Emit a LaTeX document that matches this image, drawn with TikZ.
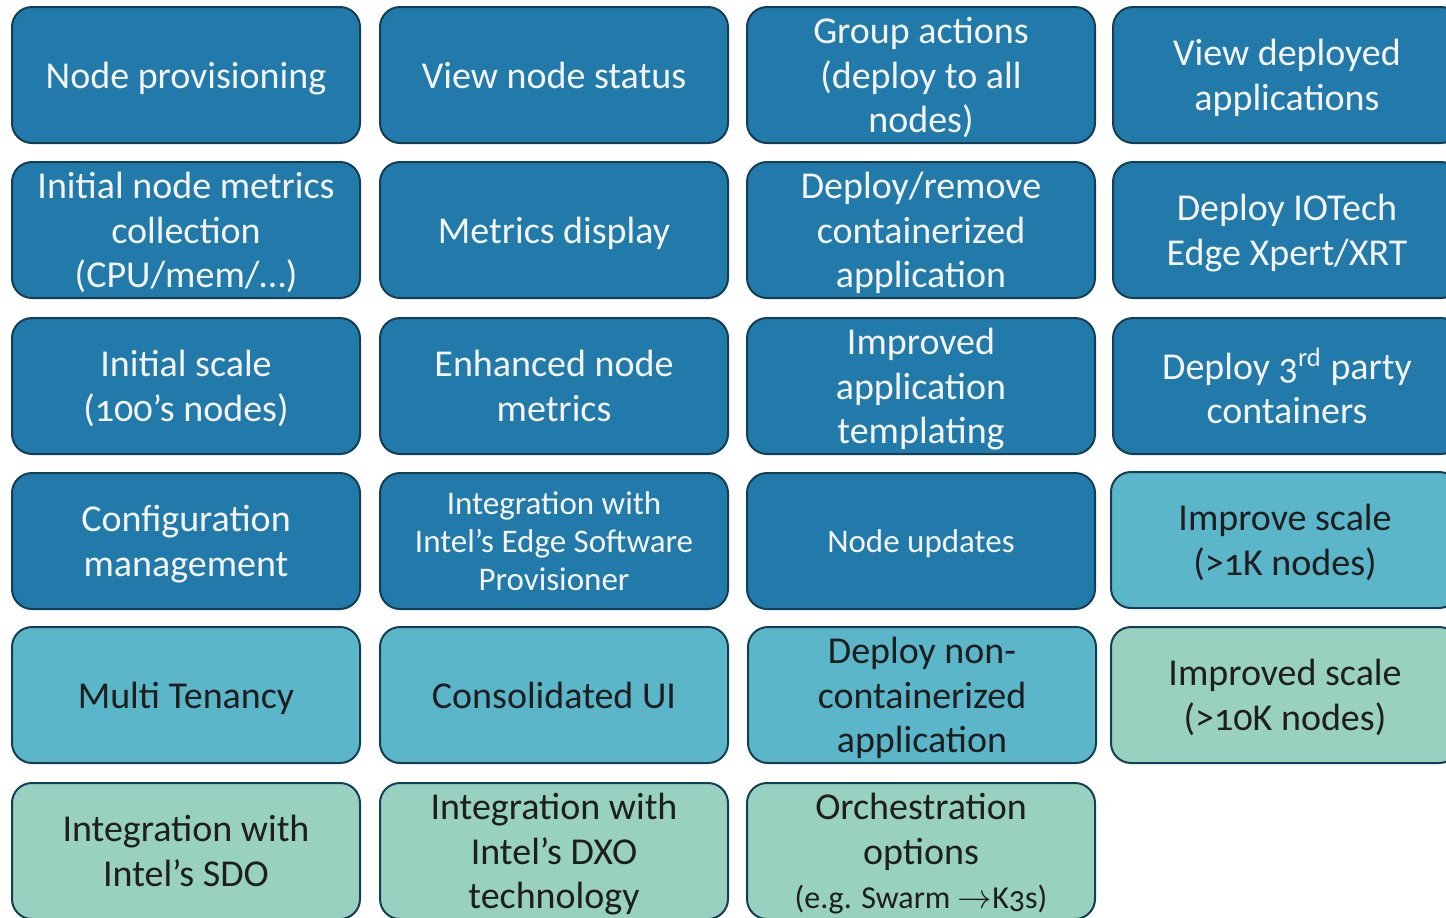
\documentclass[tikz,border=0pt]{standalone}
\usepackage{fontspec}
\setmainfont{Carlito}[Numbers=OldStyle]
\usetikzlibrary{positioning}
\usepackage{xcolor}

\definecolor{donefill}{HTML}{227AAB}
\definecolor{plannedfill}{HTML}{5BB6CA}
\definecolor{futurefill}{HTML}{98D1C0}
\definecolor{edgeline}{HTML}{123F55}
\definecolor{lighttext}{HTML}{F4F4F4}
\definecolor{darktext}{HTML}{1E1E1E}

\tikzset{
  feature/.style={rectangle, draw=edgeline, line width=1pt, rounded corners=10pt,
    minimum width=174pt, minimum height=68pt, inner sep=0pt, align=center,
    text depth=0pt, font=\fontsize{19}{22.3}\selectfont},
  donebox/.style={feature, fill=donefill, text=lighttext},
  plannedbox/.style={feature, fill=plannedfill, text=darktext},
  futurebox/.style={feature, fill=futurefill, text=darktext},
  smalltext/.style={font=\fontsize{16.5}{19}\selectfont}
}

\begin{document}
\begin{tikzpicture}[x=0.5pt, y=-0.5pt]
  \useasboundingbox (0,0) rectangle (1446,917);
  \clip (0,0) rectangle (1446,917);

  % first column
  \node[donebox] (NodeProv) at (186,75) {Node provisioning};
  \node[donebox] (InitMetrics) at (186,230) {Initial node metrics\\collection\\(CPU/mem/\dots)};
  \node[donebox] (InitScale) at (186,386) {Initial scale\\(100’s nodes)};
  \node[donebox] (ConfigMgmt) at (186,541) {Configuration\\management};
  \node[plannedbox] (MultiTenancy) at (186,695) {Multi Tenancy};
  \node[futurebox] (IntelSDO) at (186,851) {Integration with\\Intel’s SDO};

  % second column
  \node[donebox] (ViewStatus) at (554,75) {View node status};
  \node[donebox] (MetricsDisplay) at (554,230) {Metrics display};
  \node[donebox] (EnhMetrics) at (554,386) {Enhanced node\\metrics};
  \node[donebox, smalltext] (IntelESP) at (554,541) {Integration with\\Intel’s Edge Software\\Provisioner};
  \node[plannedbox] (ConsolUI) at (554,695) {Consolidated UI};
  \node[futurebox] (IntelDXO) at (554,851) {Integration with\\Intel’s DXO\\technology};

  % third column
  \node[donebox] (GroupActions) at (921,75) {Group actions\\(deploy to all\\nodes)};
  \node[donebox] (DeployRemove) at (921,230) {Deploy/remove\\containerized\\application};
  \node[donebox] (AppTemplating) at (921,386) {Improved\\application\\templating};
  \node[donebox, smalltext] (NodeUpdates) at (921,541) {Node updates};
  \node[plannedbox] (NonContainer) at (922,695) {Deploy non-\\containerized\\application};
  \node[futurebox] (Orchestration) at (921,851)
    {Orchestration\\options\\{\fontsize{16}{19}\selectfont (e.g. Swarm $\rightarrow$K3s)}};

  % fourth column
  \node[donebox] (ViewApps) at (1287,75) {View deployed\\applications};
  \node[donebox] (IOTech) at (1287,230) {Deploy IOTech\\Edge Xpert/XRT};
  \node[donebox] (ThirdParty) at (1287,386) {Deploy 3\textsuperscript{rd} party\\containers};
  \node[plannedbox] (ScaleOneK) at (1285,540) {Improve scale\\(>1K nodes)};
  \node[futurebox] (ScaleTenK) at (1285,695) {Improved scale\\(>10K nodes)};
\end{tikzpicture}
\end{document}
